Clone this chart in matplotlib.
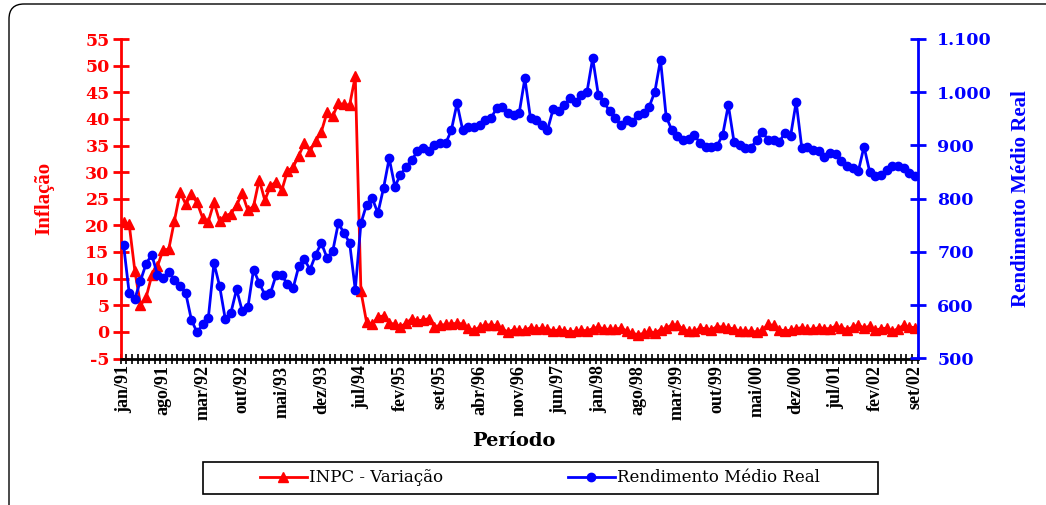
import numpy as np
import matplotlib.pyplot as plt
from matplotlib.patches import FancyBboxPatch, Rectangle

# INPC - variacao mensal (%), jan/91 a set/02
inpc = [20.6, 20.2, 11.5, 5.0, 6.5, 10.6, 12.3, 15.4, 15.5, 20.8, 26.2, 24.0,
        25.8, 24.3, 21.4, 20.7, 24.3, 20.8, 21.8, 22.2, 23.8, 26.0, 22.8, 23.6,
        28.6, 24.7, 27.4, 28.2, 26.6, 30.2, 30.9, 33.1, 35.4, 34.0, 35.9, 37.6,
        41.2, 40.5, 42.9, 42.7, 42.6, 48.0, 7.6, 1.8, 1.4, 2.8, 3.0, 1.7,
        1.4, 1.0, 1.6, 2.5, 2.1, 2.2, 2.5, 1.0, 1.2, 1.4, 1.5, 1.6,
        1.5, 0.7, 0.3, 0.9, 1.3, 1.3, 1.2, 0.5, 0.0, 0.4, 0.3, 0.3,
        0.8, 0.5, 0.7, 0.6, 0.1, 0.4, 0.2, 0.0, 0.1, 0.3, 0.2, 0.6,
        0.9, 0.5, 0.5, 0.5, 0.7, 0.2, -0.3, -0.5, -0.3, 0.1, -0.2, 0.4,
        0.7, 1.3, 1.3, 0.5, 0.1, 0.1, 0.7, 0.6, 0.4, 1.0, 0.9, 0.7,
        0.6, 0.1, 0.2, 0.1, 0.0, 0.3, 1.4, 1.2, 0.4, 0.2, 0.3, 0.6,
        0.8, 0.5, 0.5, 0.8, 0.6, 0.6, 1.1, 0.8, 0.4, 0.9, 1.3, 0.7,
        1.1, 0.3, 0.6, 0.7, 0.1, 0.6, 1.2, 0.9, 0.8]

# Rendimento medio real
rendimento = [714, 623, 612, 646, 678, 695, 657, 652, 662, 648, 637, 623,
              573, 549, 564, 576, 679, 636, 574, 586, 630, 589, 596, 667,
              642, 620, 623, 657, 657, 639, 632, 673, 686, 667, 695, 717,
              689, 701, 754, 736, 717, 629, 754, 789, 801, 773, 820, 876,
              823, 845, 860, 873, 889, 895, 889, 901, 904, 904, 929, 979,
              929, 935, 935, 939, 948, 951, 970, 973, 961, 957, 961, 1026,
              951, 947, 938, 929, 968, 964, 976, 989, 982, 995, 1001, 1064,
              995, 982, 964, 951, 939, 948, 945, 957, 961, 973, 1001, 1061,
              954, 929, 917, 911, 912, 920, 904, 898, 898, 899, 920, 976,
              907, 901, 895, 895, 911, 926, 911, 911, 907, 923, 917, 982,
              895, 898, 892, 889, 879, 886, 884, 870, 862, 858, 852, 898,
              851, 842, 845, 854, 862, 861, 858, 848, 842]

rotulos = ['jan/91', 'ago/91', 'mar/92', 'out/92', 'mai/93', 'dez/93', 'jul/94',
           'fev/95', 'set/95', 'abr/96', 'nov/96', 'jun/97', 'jan/98', 'ago/98',
           'mar/99', 'out/99', 'mai/00', 'dez/00', 'jul/01', 'fev/02', 'set/02']

n = len(inpc)
meses = np.arange(n)
W, H = 1046, 505

fig = plt.figure(figsize=(W / 100, H / 100), dpi=100)
ax = fig.add_axes([120.7 / W, 1 - 358.5 / H, 797 / W, 319.5 / H])
ax2 = ax.twinx()

# series
ax.plot(meses, inpc, color='red', lw=2, marker='^', ms=6.5, label='INPC - Variação')
ax2.plot(meses, rendimento, color='blue', lw=2, marker='o', ms=6,
         label='Rendimento Médio Real')

ax.set_xlim(-0.5, n - 0.5)
ax.set_ylim(-5, 55)
ax2.set_ylim(500, 1100)

for s in ['top', 'right']:
    ax.spines[s].set_visible(False)
for s in ['top', 'left', 'bottom']:
    ax2.spines[s].set_visible(False)
ax.spines['left'].set_color('red')
ax.spines['left'].set_linewidth(2)
ax.spines['bottom'].set_color('black')
ax.spines['bottom'].set_linewidth(2)
ax2.spines['right'].set_color('blue')
ax2.spines['right'].set_linewidth(2)

# eixo x
ax.set_xticks(meses[::7], labels=rotulos, rotation=90, fontfamily='Liberation Serif',
              fontweight='bold', fontsize=13)
ax.tick_params(axis='x', which='major', length=0, pad=5)
ax.set_xticks(np.arange(-0.5, n, 1), minor=True)
ax.tick_params(axis='x', which='minor', direction='inout', length=7, width=1.2,
               color='black')

# eixo y esquerdo
yt = list(range(-5, 56, 5))
ax.set_yticks(yt, labels=[str(v) for v in yt], fontfamily='DejaVu Serif',
              fontweight='bold', fontsize=12.5, color='red')
ax.tick_params(axis='y', colors='red', direction='inout', length=12, width=2, pad=2)

# eixo y direito
yt2 = list(range(500, 1101, 100))
ax2.set_yticks(yt2, labels=[f'{v:,}'.replace(',', '.') for v in yt2],
               fontfamily='DejaVu Serif', fontweight='bold', fontsize=12.5, color='blue')
ax2.tick_params(axis='y', colors='blue', direction='inout', length=12, width=2, pad=8)

fig.text(44 / W, 1 - 198 / H, 'Inflação', rotation=90, ha='center', va='center',
         color='red', fontfamily='Liberation Serif', fontweight='bold', fontsize=15)
fig.text(1021 / W, 1 - 199 / H, 'Rendimento Médio Real', rotation=90, ha='center',
         va='center', color='blue', fontfamily='Liberation Serif', fontweight='bold',
         fontsize=15)
fig.text(514 / W, 1 - 441 / H, 'Período', ha='center', va='center',
         fontfamily='DejaVu Serif', fontweight='bold', fontsize=14)

# legenda
fig.patches.append(Rectangle((203 / W, 1 - 494 / H), 675 / W, 32 / H,
                             transform=fig.transFigure, fill=False, ec='black', lw=1.2))
h1, l1 = ax.get_legend_handles_labels()
h2, l2 = ax2.get_legend_handles_labels()
fig.legend(h1 + h2, l1 + l2, loc='center', bbox_to_anchor=(540 / W, 1 - 478 / H),
           ncol=2, frameon=False, handlelength=2.8, handletextpad=0.15,
           columnspacing=7.5, prop={'family': 'DejaVu Serif', 'size': 12})

# moldura (so aparecem o topo e a esquerda)
fig.patches.append(FancyBboxPatch((0.09, -0.3), 10.6, 5.31,
                                  boxstyle='round,pad=0,rounding_size=0.15',
                                  transform=fig.dpi_scale_trans, fill=False,
                                  ec='black', lw=1))

fig.savefig('out.png', dpi=100)
